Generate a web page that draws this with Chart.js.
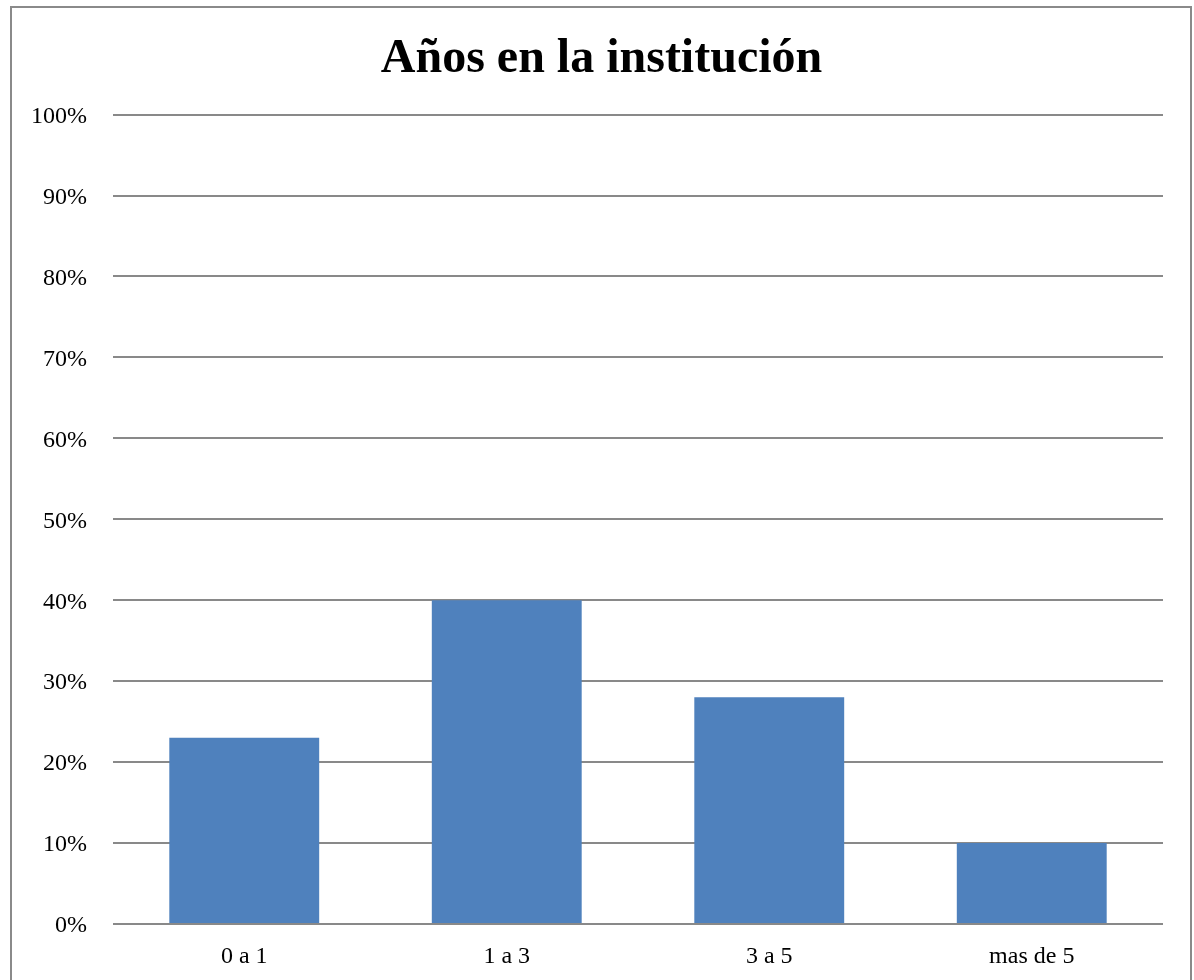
<!DOCTYPE html>
<html>
<head>
<meta charset="utf-8">
<script src="https://cdn.jsdelivr.net/npm/chart.js@4/dist/chart.umd.min.js"></script>
<style>
  html, body { margin: 0; padding: 0; background: #ffffff; overflow: hidden; }
  #wrap { position: absolute; left: 0; top: 0; width: 1194px; height: 980px; }
  #frame { position: absolute; left: 10px; top: 6px; width: 1182px; height: 1000px;
           border: 2px solid #8a8a8a; box-sizing: border-box; pointer-events: none; }
</style>
</head>
<body>
<div id="wrap"><canvas id="c" width="1194" height="980"></canvas></div>
<div id="frame"></div>
<script>
const titleText = "Años en la institución";
const categories = ["0 a 1", "1 a 3", "3 a 5", "mas de 5"];
const values = [23, 40, 28, 10];
const yTicks = [0, 10, 20, 30, 40, 50, 60, 70, 80, 90, 100];

const serif = "'Liberation Serif', 'Times New Roman', serif";

const titleShift = {
  id: 'titleShift',
  afterLayout(chart) {
    if (chart.titleBlock) {
      chart.titleBlock.left = 40;
      chart.titleBlock.right = 1163;
      chart.titleBlock.width = 1123;
    }
  }
};

new Chart(document.getElementById('c'), {
  type: 'bar',
  data: {
    labels: categories,
    datasets: [{
      data: values,
      backgroundColor: '#4F81BD',
      borderWidth: 0,
      barPercentage: 0.571,
      categoryPercentage: 1.0
    }]
  },
  plugins: [titleShift],
  options: {
    responsive: false,
    animation: false,
    devicePixelRatio: 1,
    layout: { padding: { left: 0, right: 31, top: 0, bottom: 0 } },
    plugins: {
      legend: { display: false },
      tooltip: { enabled: false },
      title: {
        display: true,
        text: titleText,
        color: '#000000',
        font: { family: serif, size: 48, weight: 'bold', lineHeight: 1.2 },
        padding: { top: 31, bottom: 26 }
      }
    },
    scales: {
      x: {
        grid: { display: false, drawTicks: false },
        border: { display: false },
        ticks: { color: '#000000', font: { family: serif, size: 24 }, padding: 18 },
        afterFit: (s) => { s.height = 56; }
      },
      y: {
        min: 0,
        max: 100,
        afterBuildTicks: (s) => { s.ticks = yTicks.map(v => ({ value: v })); },
        grid: { color: '#898989', lineWidth: 2, drawTicks: false },
        border: { display: false },
        ticks: {
          color: '#000000',
          font: { family: serif, size: 24 },
          padding: 26,
          labelOffset: 2,
          callback: (v) => v + '%'
        },
        afterFit: (s) => { s.width = 113; }
      }
    }
  }
});
</script>
</body>
</html>
